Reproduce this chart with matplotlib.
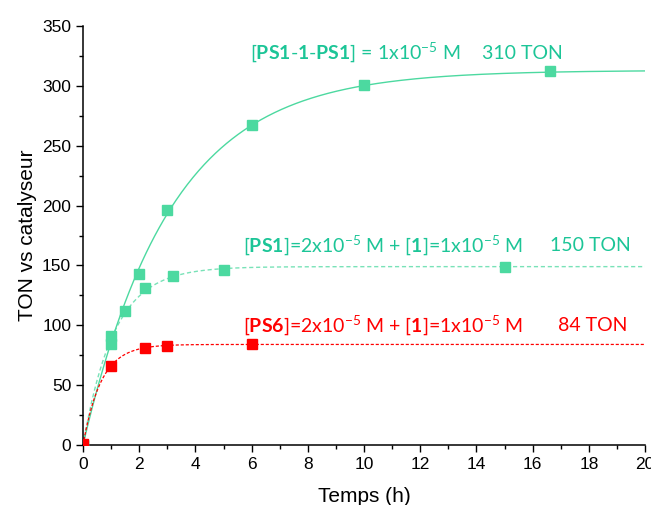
import matplotlib
matplotlib.use("Agg")
import matplotlib.pyplot as plt
from matplotlib.ticker import MultipleLocator
import numpy as np

plt.rcParams["font.family"] = ["Liberation Sans", "DejaVu Sans"]
plt.rcParams["mathtext.fontset"] = "custom"
plt.rcParams["mathtext.rm"] = "Lato"
plt.rcParams["mathtext.bf"] = "Lato:bold"
plt.rcParams["mathtext.it"] = "Lato:italic"

# measured points (time in h, TON)
t_dimer = [0, 1, 2, 3, 6, 10, 16.6]
ton_dimer = [0, 91, 143, 196, 267, 301, 312]

t_ps1 = [0, 1, 1.5, 2.2, 3.2, 5, 15]
ton_ps1 = [0, 84, 112, 131, 141, 146, 149]

t_ps6 = [0, 1, 2.2, 3, 6]
ton_ps6 = [1, 66, 81, 83, 84]

# first-order fit parameters: TON = plateau * (1 - exp(-rate * t))
fit_plateau = [313, 149, 84]
fit_rate = [0.32, 0.9, 1.55]

green = "#4cd9a0"
green_txt = "#1cc597"
red = "#ff0000"

fig = plt.figure(figsize=(6.51, 5.05), dpi=100)
ax = fig.add_axes([0.1275, 0.1188, 0.8635, 0.8297])

t_fit = np.linspace(0, 20, 400)
styles = [
    dict(color=green, lw=1.0, ls="-"),
    dict(color=green, lw=1.0, ls=(0, (3, 2)), alpha=0.75),
    dict(color=red, lw=0.9, ls=(0, (2.5, 1.5))),
]
for A, k, st in zip(fit_plateau, fit_rate, styles):
    ax.plot(t_fit, A * (1 - np.exp(-k * t_fit)), zorder=2, **st)

mk = dict(marker="s", ms=7, ls="none", zorder=3)
ax.plot(t_dimer, ton_dimer, color=green, **mk)
ax.plot(t_ps1, ton_ps1, color=green, **mk)
ax.plot(t_ps6, ton_ps6, color=red, **mk)

ax.set_xlim(0, 20)
ax.set_ylim(0, 350)
ax.xaxis.set_major_locator(MultipleLocator(2))
ax.xaxis.set_minor_locator(MultipleLocator(1))
ax.yaxis.set_major_locator(MultipleLocator(50))
ax.yaxis.set_minor_locator(MultipleLocator(25))
ax.tick_params(which="major", direction="out", length=5, width=1, labelsize=12.5)
ax.tick_params(which="minor", direction="out", length=3, width=1)
for s in ["top", "right"]:
    ax.spines[s].set_visible(False)
for s in ["left", "bottom"]:
    ax.spines[s].set_linewidth(1.1)

ax.set_xlabel("Temps (h)", fontsize=15, labelpad=11)
ax.set_ylabel("TON vs catalyseur", fontsize=15, labelpad=4)

fs = 14
ax.text(5.94, 322.5, r"[$\mathbf{PS1}$-$\mathbf{1}$-$\mathbf{PS1}$] = 1x10$^{-5}$ M",
        color=green_txt, fontsize=fs, family="Lato", va="baseline")
ax.text(14.2, 322.5, "310 TON", color=green_txt, fontsize=fs, family="Lato", va="baseline")

ax.text(5.69, 162, r"[$\mathbf{PS1}$]=2x10$^{-5}$ M + [$\mathbf{1}$]=1x10$^{-5}$ M",
        color=green_txt, fontsize=fs, family="Lato", va="baseline")
ax.text(16.62, 162, "150 TON", color=green_txt, fontsize=fs, family="Lato", va="baseline")

ax.text(5.69, 95, r"[$\mathbf{PS6}$]=2x10$^{-5}$ M + [$\mathbf{1}$]=1x10$^{-5}$ M",
        color=red, fontsize=fs, family="Lato", va="baseline")
ax.text(16.9, 95, "84 TON", color=red, fontsize=fs, family="Lato", va="baseline")

fig.savefig("out.png", dpi=100)
